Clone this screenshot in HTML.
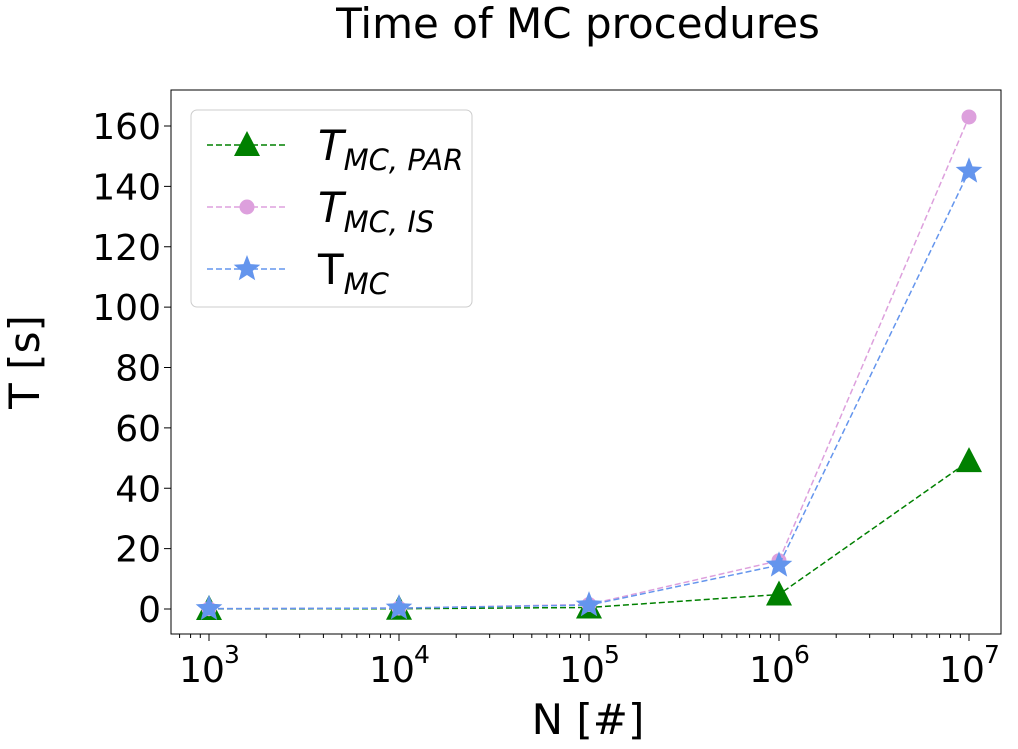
<!DOCTYPE html>
<html><head><meta charset="utf-8"><style>
html,body{margin:0;padding:0;background:#fff;}
svg{display:block;font-family:"DejaVu Sans","Liberation Sans",sans-serif;}
</style></head><body>
<svg id="c" width="1018" height="749" xmlns="http://www.w3.org/2000/svg"></svg>
<script>
const categories=[3,4,5,6,7];
const tPar=[0.02,0.1,0.5,4.8,49];
const tIs=[0.1,0.3,1.5,16,163];
const tMc=[0.1,0.3,1.3,14.5,145];
const yTicks=[0,20,40,60,80,100,120,140,160];
const xTicks=[3,4,5,6,7];
const NS="http://www.w3.org/2000/svg";
const svg=document.getElementById('c');
const L=171,R=1001,T=90,B=634;
function xs(e){return 209+(e-3)*190;}
function ys(v){return 609-v*(483/160);}
function mk(tag,a,p){const el=document.createElementNS(NS,tag);for(const k in a)el.setAttribute(k,a[k]);(p||svg).appendChild(el);return el;}
let t=mk('text',{x:578,y:38,'text-anchor':'middle','font-size':42});t.textContent='Time of MC procedures';


let fr=mk('rect',{x:L,y:T,width:R-L,height:B-T,fill:'none',stroke:'#000','stroke-width':1});


yTicks.forEach(v=>{const y=ys(v);mk('line',{x1:L-7,x2:L,y1:y,y2:y,stroke:'#000'});
 const tx=mk('text',{x:L-10,y:y+13,'text-anchor':'end','font-size':36});tx.textContent=v;
 
 });
xTicks.forEach(e=>{const x=xs(e);mk('line',{x1:x,x2:x,y1:B,y2:B+7,stroke:'#000'});
 for(let k=2;k<10&&e<7;k++){const xm=xs(e+Math.log10(k));mk('line',{x1:xm,x2:xm,y1:B,y2:B+4,stroke:'#000'});}
 const tx=mk('text',{x:x-7,y:B+48,'text-anchor':'middle','font-size':36});tx.textContent='10';
 
 
 const sp=mk('text',{x:x+23,y:B+29,'text-anchor':'middle','font-size':25});sp.textContent=e;});
for(let k=5;k<10;k++){const xm=xs(3-Math.log10(10/k));if(xm>L)mk('line',{x1:xm,x2:xm,y1:B,y2:B+4,stroke:'#000'});}
for(let k=2;k<=3;k++){const xm=xs(7+Math.log10(k));if(xm<R)mk('line',{x1:xm,x2:xm,y1:B,y2:B+4,stroke:'#000'});}
let xl=mk('text',{x:588,y:734,'text-anchor':'middle','font-size':42});xl.textContent='N [#]';


let yl=mk('text',{x:0,y:0,'text-anchor':'middle','font-size':42,transform:'translate(39,362) rotate(-90)'});yl.textContent='T [s]';


function tri(x,y,c,p){return mk('polygon',{points:`${x},${y-14} ${x-13},${y+11} ${x+13},${y+11}`,fill:c},p);}
function star(x,y,c,p){let pts=[];for(let i=0;i<10;i++){const r=i%2?6:14,a=-Math.PI/2+i*Math.PI/5;pts.push((x+r*Math.cos(a)).toFixed(1)+','+(y+r*Math.sin(a)).toFixed(1));}return mk('polygon',{points:pts.join(' '),fill:c},p);}
function circ(x,y,c,p){return mk('circle',{cx:x,cy:y,r:7.5,fill:c},p);}
function series(vals,color,marker,name){const g=mk('g',{});
 
 
 mk('polyline',{points:vals.map((v,i)=>xs(categories[i])+','+ys(v)).join(' '),fill:'none',stroke:color,'stroke-width':1.5,'stroke-dasharray':'6,3'},g);
 vals.forEach((v,i)=>{const m=marker(xs(categories[i]),ys(v),color,g);
  
  });}
series(tPar,'#008000',tri,'series-t-mc-par');
series(tIs,'#dda0dd',circ,'series-t-mc-is');
series(tMc,'#6495ed',star,'series-t-mc');
const lg=mk('g',{});


mk('rect',{x:191,y:110,width:281,height:197,rx:6,fill:'#fff',stroke:'#ccc'},lg);
const entries=[['#008000',tri,'MC, PAR',true],['#dda0dd',circ,'MC, IS',true],['#6495ed',star,'MC',false]];
entries.forEach((en,i)=>{const y=145+i*62;const g=mk('g',{},lg);
 
 
 mk('line',{x1:207,x2:287,y1:y,y2:y,stroke:en[0],'stroke-width':1.5,'stroke-dasharray':'6,3'},g);
 en[1](247,y,en[0],g);
 const tx=mk('text',{x:318,y:y+15,'font-size':42},g);
 const a=document.createElementNS(NS,'tspan');a.textContent='T';if(en[3])a.setAttribute('font-style','italic');tx.appendChild(a);
 const b=document.createElementNS(NS,'tspan');b.setAttribute('font-size',29);b.setAttribute('font-style','italic');b.setAttribute('dy',10);b.textContent=en[2];tx.appendChild(b);});
</script>
</body></html>
